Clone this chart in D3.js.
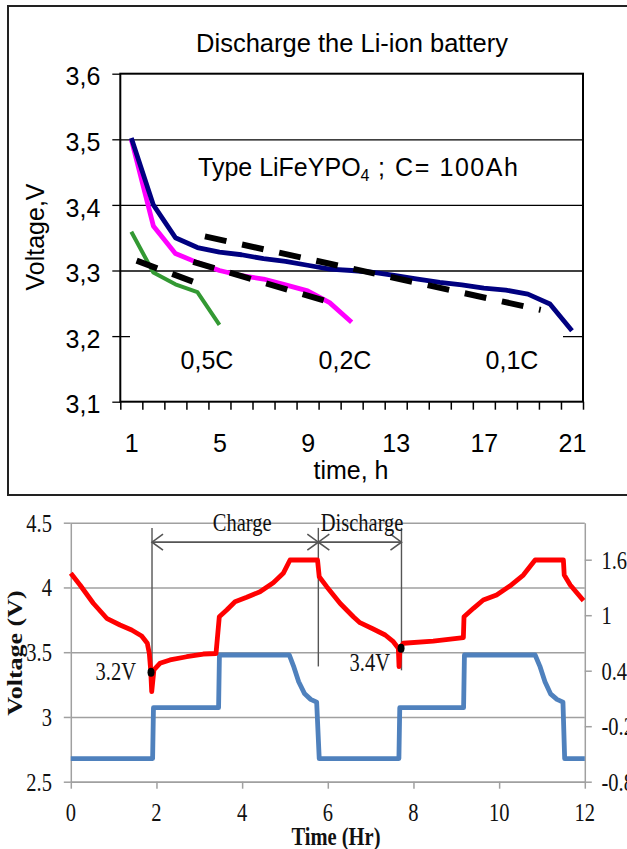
<!DOCTYPE html>
<html>
<head>
<meta charset="utf-8">
<script src="https://cdn.jsdelivr.net/npm/d3@7"></script>
<style>
  html, body { margin: 0; padding: 0; background: #fff; }
  svg { display: block; }
</style>
</head>
<body>
<svg id="chart" width="627" height="849"></svg>
<script>
// ---------- top chart data (discharge at three rates) ----------
const hours = [1, 2, 3, 4, 5, 6, 7, 8, 9, 10, 11, 12, 13, 14, 15, 16, 17, 18, 19, 20, 21];
const volt01C = [3.502, 3.400, 3.350, 3.335, 3.328, 3.324, 3.318, 3.314, 3.308, 3.302, 3.300,
                 3.297, 3.292, 3.287, 3.282, 3.278, 3.273, 3.270, 3.264, 3.249, 3.208];
const volt02C = [3.500, 3.368, 3.326, 3.312, 3.300, 3.292, 3.287, 3.278, 3.269, 3.251, 3.221];
const volt05C = [3.359, 3.297, 3.279, 3.267, 3.217];
// dashed trend lines: [hour, volt] end points
const trend05C = [[1.24, 3.315], [4.04, 3.280]];
const trend02C = [[3.81, 3.313], [10.29, 3.249]];
const trend01C = [[4.34, 3.352], [19.58, 3.240]];
const voltTicks = [3.1, 3.2, 3.3, 3.4, 3.5, 3.6];
const hourLabels = [1, 5, 9, 13, 17, 21];
const rateNames = ['0,5C', '0,2C', '0,1C'];

// ---------- bottom chart data (charge / discharge cycling) ----------
const voltageCurve = [
  [0, 4.109], [0.215, 4.019], [0.525, 3.878], [0.838, 3.762], [1.149, 3.710], [1.42, 3.671],
  [1.655, 3.625], [1.786, 3.569], [1.833, 3.491], [1.865, 3.363], [1.889, 3.195], [1.94, 3.363],
  [2.08, 3.414], [2.316, 3.440], [2.706, 3.465], [3.094, 3.486], [3.39, 3.490], [3.467, 3.774],
  [3.64, 3.826], [3.834, 3.890], [4.107, 3.924], [4.417, 3.967], [4.728, 4.037], [4.96, 4.109],
  [5.118, 4.212], [5.76, 4.212], [5.80, 4.083], [5.975, 4.006], [6.13, 3.942], [6.285, 3.878],
  [6.44, 3.826], [6.596, 3.774], [6.75, 3.728], [7.06, 3.679], [7.34, 3.633], [7.53, 3.581],
  [7.647, 3.530], [7.663, 3.388], [7.686, 3.530], [7.763, 3.569], [8.46, 3.586], [9.165, 3.612],
  [9.18, 3.774], [9.40, 3.839], [9.63, 3.903], [9.94, 3.942], [10.25, 4.011], [10.565, 4.096],
  [10.84, 4.212], [11.50, 4.212], [11.52, 4.096], [11.66, 4.019], [11.97, 3.898]
];
const currentCurve = [
  [0, -0.55], [1.91, -0.55], [1.93, 0.0], [3.45, 0.0], [3.47, 0.57], [5.10, 0.57],
  [5.20, 0.45], [5.32, 0.28], [5.46, 0.15], [5.60, 0.09], [5.74, 0.06], [5.80, -0.55],
  [7.66, -0.55], [7.68, 0.0], [9.17, 0.0], [9.19, 0.57], [10.84, 0.57], [10.95, 0.45],
  [11.07, 0.28], [11.20, 0.15], [11.35, 0.09], [11.49, 0.06], [11.53, -0.55], [12, -0.55]
];
const voltMarkers = [[1.873, 3.345], [7.71, 3.53]];
const markerNames = ['3.2V', '3.4V'];
const stageBounds = [1.896, 5.779, 7.72];
const stageNames = ['Charge', 'Discharge'];
const leftTicks = [2.5, 3, 3.5, 4, 4.5];
const rightTicks = [-0.8, -0.2, 0.4, 1, 1.6];
const timeTicks = [0, 2, 4, 6, 8, 10, 12];

const svg = d3.select('#chart');
const SANS = '"Liberation Sans", Arial, sans-serif';
const SERIF = '"Liberation Serif", "Times New Roman", serif';

// ================= TOP CHART =================
const T = { left: 120.3, right: 583, top: 73.7, bottom: 401.7 };
const tx = d3.scaleLinear().domain([0.5, 21.5]).range([T.left, T.right]);
const ty = d3.scaleLinear().domain([3.1, 3.6]).range([T.bottom, T.top]);

const topG = svg.append('g').attr('font-family', SANS).attr('fill', '#000');

topG.append('rect')
  .attr('x', 8).attr('y', 6).attr('width', 640).attr('height', 489)
  .attr('fill', '#fff').attr('stroke', '#222').attr('stroke-width', 2);

topG.append('text')
  .attr('x', 352).attr('y', 52).attr('text-anchor', 'middle')
  .attr('font-size', 25.5).text('Discharge the Li-ion battery');

// gridlines
topG.append('g')
  .attr('transform', `translate(${T.left},0)`)
  .call(d3.axisLeft(ty).tickValues(voltTicks.slice(1, -1)).tickSize(-(T.right - T.left)).tickFormat(''))
  .call(g => g.select('.domain').remove())
  .selectAll('line').attr('stroke', '#000').attr('stroke-width', 1.3);

// white box behind the rate labels (covers the 3,2 gridline)
topG.append('rect')
  .attr('x', 130).attr('y', 331).attr('width', 433).attr('height', 52)
  .attr('fill', '#fff');

// y axis ticks + labels
const yAx = topG.append('g')
  .attr('transform', `translate(${T.left},0)`)
  .call(d3.axisLeft(ty).tickValues(voltTicks).tickSize(8).tickSizeOuter(0).tickPadding(12)
    .tickFormat(d => d3.format('.1f')(d).replace('.', ',')));
yAx.select('.domain').remove();
yAx.attr('font-family', SANS).attr('font-size', 25);
yAx.selectAll('line').attr('stroke', '#000').attr('stroke-width', 1.3);
yAx.selectAll('text').attr('fill', '#000').attr('dy', '0.45em');

// x axis ticks (between categories)
const xAx = topG.append('g')
  .attr('transform', `translate(0,${T.bottom})`)
  .call(d3.axisBottom(tx).tickValues(hours.map(h => h - 0.5).concat([21.5])).tickSize(8).tickSizeOuter(0).tickFormat(''));
xAx.select('.domain').remove();
xAx.selectAll('line').attr('stroke', '#000').attr('stroke-width', 1.5);

const xLab = topG.append('g')
  .attr('transform', `translate(0,${T.bottom})`)
  .call(d3.axisBottom(tx).tickValues(hourLabels).tickSize(0).tickPadding(32.5));
xLab.select('.domain').remove();
xLab.attr('font-family', SANS).attr('font-size', 25);
xLab.selectAll('text').attr('fill', '#000');

// plot frame
topG.append('rect')
  .attr('x', T.left).attr('y', T.top)
  .attr('width', T.right - T.left).attr('height', T.bottom - T.top)
  .attr('fill', 'none').attr('stroke', '#000').attr('stroke-width', 2);

// axis titles
topG.append('text')
  .attr('transform', `translate(44,237) rotate(-90)`)
  .attr('text-anchor', 'middle').attr('font-size', 25).text('Voltage,V');
topG.append('text')
  .attr('x', 351).attr('y', 479).attr('text-anchor', 'middle')
  .attr('font-size', 25).text('time, h');

// series
const catLine = d3.line().x((d, i) => tx(hours[i])).y(d => ty(d));
[[volt05C, '#339933', 4], [volt02C, '#ff00ff', 4.8], [volt01C, '#000080', 4.8]].forEach(([vals, col, w]) => {
  topG.append('path')
    .attr('d', catLine(vals))
    .attr('fill', 'none').attr('stroke', col).attr('stroke-width', w)
    .attr('stroke-linejoin', 'round');
});

const ptLine = d3.line().x(d => tx(d[0])).y(d => ty(d[1]));
[trend05C, trend02C, trend01C].forEach(seg => {
  topG.append('path')
    .attr('d', ptLine(seg))
    .attr('fill', 'none').attr('stroke', '#000').attr('stroke-width', 6)
    .attr('stroke-dasharray', '22,16');
});

// annotations
const typeText = topG.append('text').attr('x', 198).attr('y', 176).attr('font-size', 25);
typeText.append('tspan').text('Type LiFeYPO');
typeText.append('tspan').attr('font-size', 16).attr('dy', 5).text('4');
typeText.append('tspan').attr('x', 378).attr('dy', -5)
  .attr('textLength', 140).attr('lengthAdjust', 'spacing').text('; C= 100Ah');

const rateX = [207, 345, 512];
topG.selectAll('.rate')
  .data(rateNames)
  .enter().append('text')
  .attr('class', 'rate')
  .attr('x', (d, i) => rateX[i]).attr('y', 369)
  .attr('text-anchor', 'middle').attr('font-size', 25)
  .text(d => d);

// ================= BOTTOM CHART =================
const B = { left: 70.8, right: 584.8, top: 522.7, bottom: 781.7 };
const SQ = 0.82;   // text in the source is horizontally squeezed
const GRID = '#a0a0a0';
const bx = d3.scaleLinear().domain([0, 12]).range([B.left, B.right]);
const byL = d3.scaleLinear().domain([2.5, 4.5]).range([B.bottom, B.top]);
const byR = d3.scaleLinear().domain([-0.8, 2.0]).range([B.bottom, B.top]);

const botG = svg.append('g').attr('font-family', SERIF).attr('fill', '#111');

// gridlines + left ticks
const gL = botG.append('g')
  .attr('transform', `translate(${B.left},0)`)
  .call(d3.axisLeft(byL).tickValues(leftTicks).tickSizeInner(-(B.right - B.left)).tickSizeOuter(0).tickFormat(''));
gL.select('.domain').remove();
gL.selectAll('line').attr('stroke', GRID).attr('stroke-width', 1.5);
const tL = botG.append('g')
  .attr('transform', `translate(${B.left},0)`)
  .call(d3.axisLeft(byL).tickValues(leftTicks).tickSize(7).tickSizeOuter(0).tickFormat(''));
tL.selectAll('line').attr('stroke', GRID).attr('stroke-width', 1.5);
tL.select('.domain').attr('stroke', GRID).attr('stroke-width', 1.5);

const tR = botG.append('g')
  .attr('transform', `translate(${B.right},0)`)
  .call(d3.axisRight(byR).tickValues(rightTicks).tickSize(7).tickSizeOuter(0).tickFormat(''));
tR.selectAll('line').attr('stroke', GRID).attr('stroke-width', 1.5);
tR.select('.domain').attr('stroke', GRID).attr('stroke-width', 1.5);

const tB = botG.append('g')
  .attr('transform', `translate(0,${B.bottom})`)
  .call(d3.axisBottom(bx).tickValues(timeTicks).tickSize(7).tickSizeOuter(0).tickFormat(''));
tB.selectAll('line').attr('stroke', GRID).attr('stroke-width', 1.5);
tB.select('.domain').attr('stroke', GRID).attr('stroke-width', 1.5);

// tick labels
function sqText(sel, x, y) {
  return sel.attr('transform', `translate(${x},${y}) scale(${SQ},1)`);
}
botG.selectAll('.lt').data(leftTicks).enter().append('text')
  .attr('class', 'lt').attr('text-anchor', 'end').attr('font-size', 25)
  .each(function (d) { sqText(d3.select(this), 52, byL(d) + 9); })
  .text(d => String(d));
botG.selectAll('.rt').data(rightTicks).enter().append('text')
  .attr('class', 'rt').attr('text-anchor', 'start').attr('font-size', 25)
  .each(function (d) { sqText(d3.select(this), 601.5, byR(d) + 9); })
  .text(d => String(d));
botG.selectAll('.bt').data(timeTicks).enter().append('text')
  .attr('class', 'bt').attr('text-anchor', 'middle').attr('font-size', 25)
  .each(function (d) { sqText(d3.select(this), bx(d), 821); })
  .text(d => d);

// axis titles
botG.append('text')
  .attr('transform', `translate(22,653) scale(${SQ},1) rotate(-90)`)
  .attr('text-anchor', 'middle').attr('font-size', 26).attr('font-weight', 'bold')
  .text('Voltage (V)');
sqText(botG.append('text'), 336, 845)
  .attr('text-anchor', 'middle').attr('font-size', 25).attr('font-weight', 'bold')
  .text('Time (Hr)');

// stage annotation: verticals, arrows, labels
const ARW = '#555';
const vBottoms = [3.2, 3.39, 3.36];
stageBounds.forEach((t, i) => {
  botG.append('line')
    .attr('x1', bx(t)).attr('x2', bx(t))
    .attr('y1', byL(4.46)).attr('y2', byL(vBottoms[i]))
    .attr('stroke', ARW).attr('stroke-width', 1.4);
});
const arrowY = byL(4.35);
for (let i = 0; i < stageNames.length; i++) {
  const x0 = bx(stageBounds[i]), x1 = bx(stageBounds[i + 1]);
  botG.append('line').attr('x1', x0).attr('x2', x1).attr('y1', arrowY).attr('y2', arrowY)
    .attr('stroke', ARW).attr('stroke-width', 1.6);
  botG.append('path')
    .attr('d', `M${x0 + 11},${arrowY - 8}L${x0},${arrowY}L${x0 + 11},${arrowY + 8}`
             + `M${x1 - 11},${arrowY - 8}L${x1},${arrowY}L${x1 - 11},${arrowY + 8}`)
    .attr('fill', 'none').attr('stroke', ARW).attr('stroke-width', 1.6);
}
const stageLabelT = [4.0, 6.8];
stageNames.forEach((s, i) => {
  sqText(botG.append('text'), bx(stageLabelT[i]), 531)
    .attr('text-anchor', 'middle').attr('font-size', 25).text(s);
});

// curves
const vLine = d3.line().x(d => bx(d[0])).y(d => byL(d[1]));
const iLine = d3.line().x(d => bx(d[0])).y(d => byR(d[1]));
botG.append('path').attr('d', iLine(currentCurve))
  .attr('fill', 'none').attr('stroke', '#4f81bd').attr('stroke-width', 4.8)
  .attr('stroke-linejoin', 'round');
botG.append('path').attr('d', vLine(voltageCurve))
  .attr('fill', 'none').attr('stroke', '#ff0000').attr('stroke-width', 4.8)
  .attr('stroke-linejoin', 'round');

// markers + labels
botG.selectAll('.mk').data(voltMarkers).enter().append('ellipse')
  .attr('class', 'mk')
  .attr('cx', d => bx(d[0])).attr('cy', d => byL(d[1]))
  .attr('rx', 3.5).attr('ry', 4.5).attr('fill', '#000');
const markerLabelPos = [[136, 680], [390, 671]];
markerNames.forEach((s, i) => {
  sqText(botG.append('text'), markerLabelPos[i][0], markerLabelPos[i][1])
    .attr('text-anchor', 'end').attr('font-size', 25).text(s);
});
</script>
</body>
</html>
